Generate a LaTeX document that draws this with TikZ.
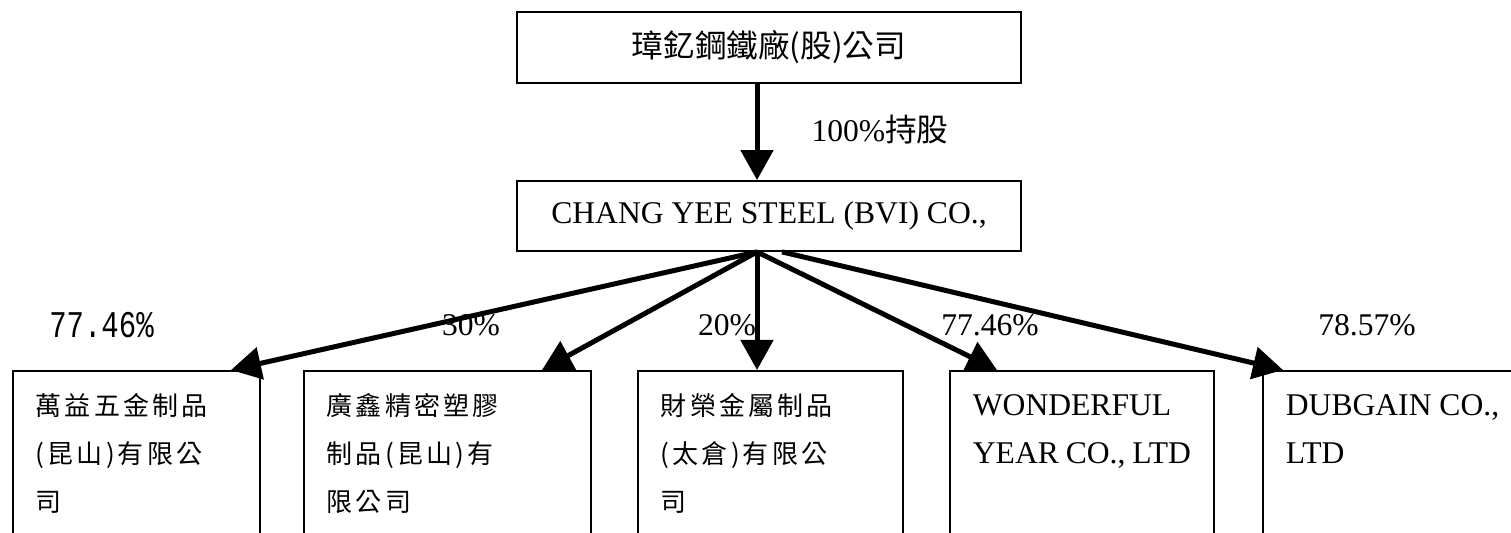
\documentclass[tikz,border=0pt]{standalone}
\usepackage{fontspec}
\setmainfont{Liberation Serif}
\newfontfamily\cjk{Noto Sans CJK TC}
\newfontfamily\cjkwide[LetterSpace=12]{Noto Sans CJK TC}
\newfontfamily\monofam{Liberation Mono}
\usetikzlibrary{arrows.meta,positioning}
\newcommand{\sublines}[2]{\parbox[t]{#1}{#2}}
\tikzset{
  bigbox/.style={draw, line width=0.9pt, fill=white, minimum width=252pt, minimum height=35.5pt, inner sep=0pt, font=\fontsize{15.8pt}{19pt}\selectfont},
  subbox/.style={draw, line width=0.9pt, fill=white, anchor=north west, inner xsep=11.5pt, inner ysep=0pt, text height=22.5pt, text depth=100pt},
  cjksub/.style={font=\cjkwide\fontsize{13pt}{24pt}\selectfont},
  engsub/.style={font=\fontsize{15.8pt}{24pt}\selectfont},
  pct/.style={font=\fontsize{15.8pt}{19pt}\selectfont, inner sep=0pt},
  own/.style={line width=2.5pt, -{Triangle[length=15pt,width=16pt]}}
}
\begin{document}
\begin{tikzpicture}[x=0.5pt,y=-0.5pt]
\useasboundingbox (0,0) rectangle (1511,533);
%	parent and BVI holding
\node[bigbox] (parent) at (769,47.5) {\cjk 璋釔鋼鐵廠(股)公司};
\node[bigbox, minimum height=35pt] (bvi) at (769,216) {CHANG YEE STEEL (BVI) CO.,};
%	subsidiaries
\node[subbox, cjksub] (sub1) at (12,370) {\sublines{100.5pt}{萬益五金制品\\(昆山)有限公\\司}};
\node[subbox, cjksub] (sub2) at (303,370) {\sublines{120.5pt}{廣鑫精密塑膠\\制品(昆山)有\\限公司}};
\node[subbox, cjksub] (sub3) at (637,370) {\sublines{109.5pt}{財榮金屬制品\\(太倉)有限公\\司}};
\node[subbox, engsub] (sub4) at (949,370) {\sublines{109pt}{WONDERFUL\\YEAR~CO.,~LTD}};
\node[subbox, engsub] (sub5) at (1262,370) {\sublines{130pt}{DUBGAIN~CO.,\\LTD}};
%	shares
\node[pct] (pct0) at (880,130) {100\%{\cjk 持股}};
\node[inner sep=0pt, font=\monofam\fontsize{14.5pt}{18pt}\selectfont] (pct1) at (101.5,325) {\scalebox{1}[1.3]{77.46\%}};
\node[pct] (pct2) at (471,325) {30\%};
\node[pct] (pct3) at (727,325) {20\%};
\node[pct] (pct4) at (990,325) {77.46\%};
\node[pct] (pct5) at (1367,325) {78.57\%};
%	arrows
\coordinate (hub) at ([xshift=-6pt]bvi.south);
\coordinate (hubR) at ([xshift=6.5pt]bvi.south);
\draw[own] ([xshift=-6pt]parent.south) -- ([xshift=-6pt]bvi.north);
\draw[own] (hub) -- ([xshift=109.5pt]sub1.north west);
\draw[own] (hub) -- ([xshift=119.5pt]sub2.north west);
\draw[own] (hub) -- (hub |- sub3.north);
\draw[own] (hub) -- ([xshift=24pt]sub4.north west);
\draw[own] (hubR) -- ([xshift=10.5pt]sub5.north west);
\end{tikzpicture}
\end{document}
